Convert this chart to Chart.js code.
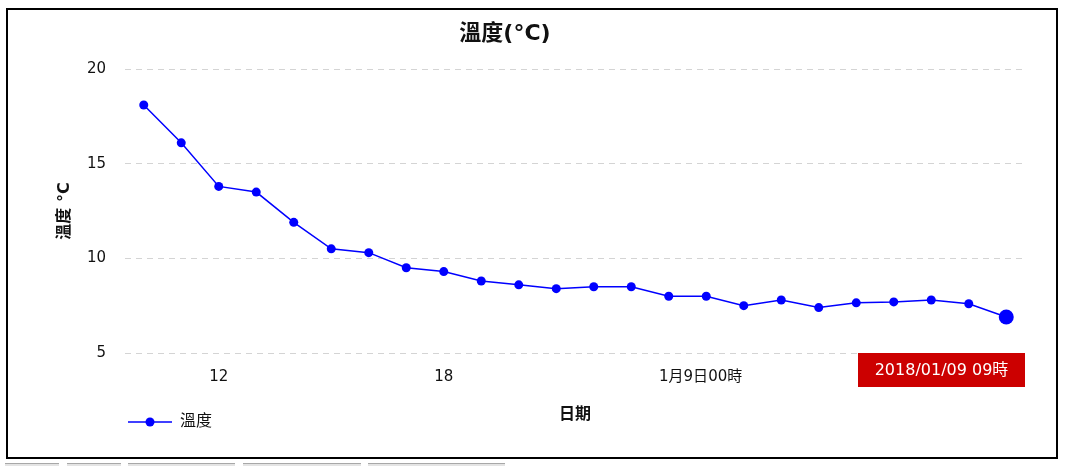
<!DOCTYPE html>
<html>
<head>
<meta charset="utf-8">
<script src="https://cdn.jsdelivr.net/npm/chart.js@4/dist/chart.umd.min.js"></script>
<style>
  body { margin: 0; background: #fff; }
  #box { position: absolute; left: 6px; top: 8px; width: 1048px; height: 447px; border: 2px solid #000; }
  .tab { position: absolute; top: 463px; height: 10px; background: #e4e4e4; border-top: 1px solid #a8a8a8; }
</style>
</head>
<body>
<div id="box"><canvas id="c" width="1048" height="447"></canvas></div>
<div class="tab" style="left:5px;width:54px"></div>
<div class="tab" style="left:67px;width:54px"></div>
<div class="tab" style="left:128px;width:107px"></div>
<div class="tab" style="left:243px;width:118px"></div>
<div class="tab" style="left:368px;width:137px"></div>
<script>
// hourly readings 2018/01/08 10時 .. 2018/01/09 09時
var hours = ['10時', '11時', '12時', '13時', '14時', '15時', '16時', '17時', '18時', '19時', '20時', '21時',
    '22時', '23時', '00時', '01時', '02時', '03時', '04時', '05時', '06時', '07時', '08時', '09時']
var temps = [18.1, 16.1, 13.8, 13.5, 11.9, 10.5, 10.3, 9.5, 9.3, 8.8, 8.6, 8.4,
    8.5, 8.5, 8.0, 8.0, 7.5, 7.8, 7.4, 7.65, 7.7, 7.8, 7.6, 6.9]
var xTickPos = [2, 8, 14.85, 20]
var xTickLabels = ['12', '18', '1月9日00時', '06']
var yTicks = [5, 10, 15, 20]
var seriesName = '溫度'
var titleText = '溫度(°C)'
var flagText = '2018/01/09 09時'

var FONT = '"DejaVu Sans", "Noto Sans CJK TC", sans-serif'
var BLUE = '#0000ff'

// legend symbol: line with a dot in the middle (left part kept empty)
var sym = document.createElement('canvas')
sym.width = 154
sym.height = 12
var sctx = sym.getContext('2d')
sctx.strokeStyle = BLUE
sctx.lineWidth = 1.5
sctx.beginPath()
sctx.moveTo(110, 6)
sctx.lineTo(154, 6)
sctx.stroke()
sctx.fillStyle = BLUE
sctx.beginPath()
sctx.arc(132, 6, 4.5, 0, Math.PI * 2)
sctx.fill()

var extras = {
    id: 'extras',
    afterDraw(chart) {
        const ctx = chart.ctx
        const area = chart.chartArea
        const xs = chart.scales.x

        // title
        ctx.save()
        ctx.font = 'bold 22px ' + FONT
        ctx.fillStyle = '#111'
        ctx.textAlign = 'center'
        ctx.textBaseline = 'middle'
        ctx.fillText(titleText, 497, 24)

        // flag on the last point
        const last = temps.length - 1
        const px = xs.getPixelForValue(last)
        const w = 167, h = 34
        let left = Math.min(px - w / 2, area.right - w)
        ctx.fillStyle = '#cc0000'
        ctx.fillRect(left, area.bottom, w, h)
        ctx.fillStyle = '#fff'
        ctx.font = '16px ' + FONT
        ctx.fillText(flagText, left + w / 2, area.bottom + h / 2 + 1)
        ctx.restore()
    }
}

new Chart(document.getElementById('c'), {
    type: 'line',
    data: {
        datasets: [{
            label: seriesName,
            data: temps.map((v, i) => ({ x: i, y: v })),
            borderColor: BLUE,
            backgroundColor: BLUE,
            borderWidth: 1.5,
            pointRadius: ctx => ctx.dataIndex === temps.length - 1 ? 7.5 : 4.5,
            pointBorderWidth: 0,
            pointBackgroundColor: BLUE,
            tension: 0
        }]
    },
    options: {
        responsive: false,
        animation: false,
        devicePixelRatio: 1,
        layout: {
            padding: { top: 59, left: 0, right: 31, bottom: 17 }
        },
        scales: {
            x: {
                type: 'linear',
                min: -0.5,
                max: 23.5,
                afterFit(scale) { scale.height = 51 },
                afterBuildTicks(scale) {
                    scale.ticks = xTickPos.map(v => ({ value: v }))
                },
                grid: { display: false, drawTicks: false },
                border: { display: false },
                ticks: {
                    autoSkip: false,
                    maxRotation: 0,
                    padding: 15,
                    color: '#111',
                    font: { family: FONT, size: 15 },
                    callback: (v) => {
                        const k = xTickPos.indexOf(v)
                        return k >= 0 ? xTickLabels[k] : ''
                    }
                },
                title: {
                    display: true,
                    text: '日期',
                    color: '#111',
                    font: { family: FONT, size: 16, weight: 'bold' },
                    padding: { top: 0, bottom: -20 }
                }
            },
            y: {
                min: 5,
                max: 20,
                afterFit(scale) { scale.width = 117 },
                afterBuildTicks(scale) {
                    scale.ticks = yTicks.map(v => ({ value: v }))
                },
                grid: { color: '#d4d4d4', lineWidth: 1, drawTicks: false },
                border: { display: false, dash: [6, 5] },
                ticks: {
                    padding: 19,
                    color: '#111',
                    font: { family: FONT, size: 15 }
                },
                title: {
                    display: true,
                    text: '溫度 °C',
                    color: '#111',
                    font: { family: FONT, size: 16, weight: 'bold' },
                    padding: { top: 47, bottom: 0 }
                }
            }
        },
        plugins: {
            legend: {
                position: 'bottom',
                align: 'start',
                labels: {
                    usePointStyle: true,
                    pointStyle: sym,
                    pointStyleWidth: 154,
                    padding: 10,
                    color: '#111',
                    font: { family: FONT, size: 16 }
                }
            },
            title: { display: false },
            tooltip: { enabled: false }
        }
    },
    plugins: [extras]
})
</script>
</body>
</html>
